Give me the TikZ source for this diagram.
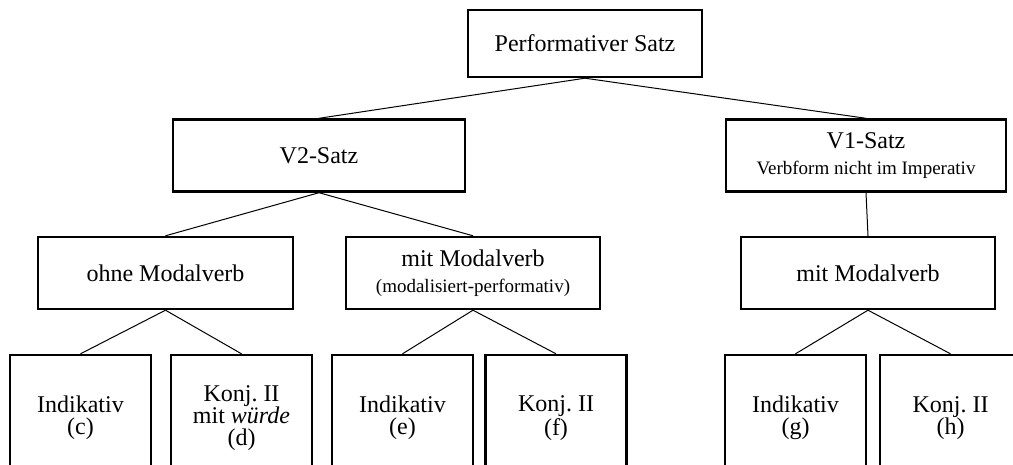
\documentclass[tikz,border=0pt]{standalone}
\usepackage{fontspec}
\setmainfont{Liberation Serif}
\newcommand{\kleinschrift}{\fontsize{9.5}{11}\selectfont}
\pgfmathsetmacro{\blattbreite}{70.5}

\begin{document}
\begin{tikzpicture}[x=0.5pt, y=-0.5pt,
        kasten/.style={draw, line width=1.2pt, align=center, inner sep=0pt,
            minimum height=36pt, font=\fontsize{12}{13}\selectfont},
        blatt/.style={kasten, minimum width=\blattbreite pt, minimum height=63pt,
            font=\fontsize{12}{11}\selectfont},
        ast/.style={line width=0.5pt}]
            \clip (0,0) rectangle (1013,465);
            % obere Ebenen
            \node[kasten, minimum width=117pt, minimum height=33.5pt] (satz) at (585,43.5) {Performativer Satz};
            \node[kasten, minimum width=146pt] (vzwei) at (319,155.5) {V2-Satz};
            \node[kasten, minimum width=140pt] (veins) at (866,155.5) {V1-Satz\\\kleinschrift Verbform nicht im Imperativ};
            \node[kasten, minimum width=127.5pt] (ohne) at (165.5,273) {ohne Modalverb};
            \node[kasten, minimum width=127pt] (mitl) at (473,273) {mit Modalverb\\\kleinschrift (modalisiert-performativ)};
            \node[kasten, minimum width=127pt] (mitr) at (868,273) {mit Modalverb};
            % untere Ebene, unten offen
            \node[blatt] (c) at (80.5,418) {Indikativ\\(c)};
            \node[blatt] (d) at (241.5,418) {Konj.\ II\\mit \textit{würde}\\(d)};
            \node[blatt] (e) at (402.5,418) {Indikativ\\(e)};
            \node[blatt] (f) at (556,418) {Konj.\ II\\(f)};
            \node[blatt] (g) at (795.5,418) {Indikativ\\(g)};
            \node[blatt] (h) at (950.5,418) {Konj.\ II\\(h)};
            \foreach \von/\nach in {satz/vzwei, satz/veins, vzwei/ohne, vzwei/mitl, veins/mitr,
                    ohne/c, ohne/d, mitl/e, mitl/f, mitr/g, mitr/h}{
                \draw[ast] (\von.south) -- (\nach.north);
            }
        \end{tikzpicture}
\end{document}
